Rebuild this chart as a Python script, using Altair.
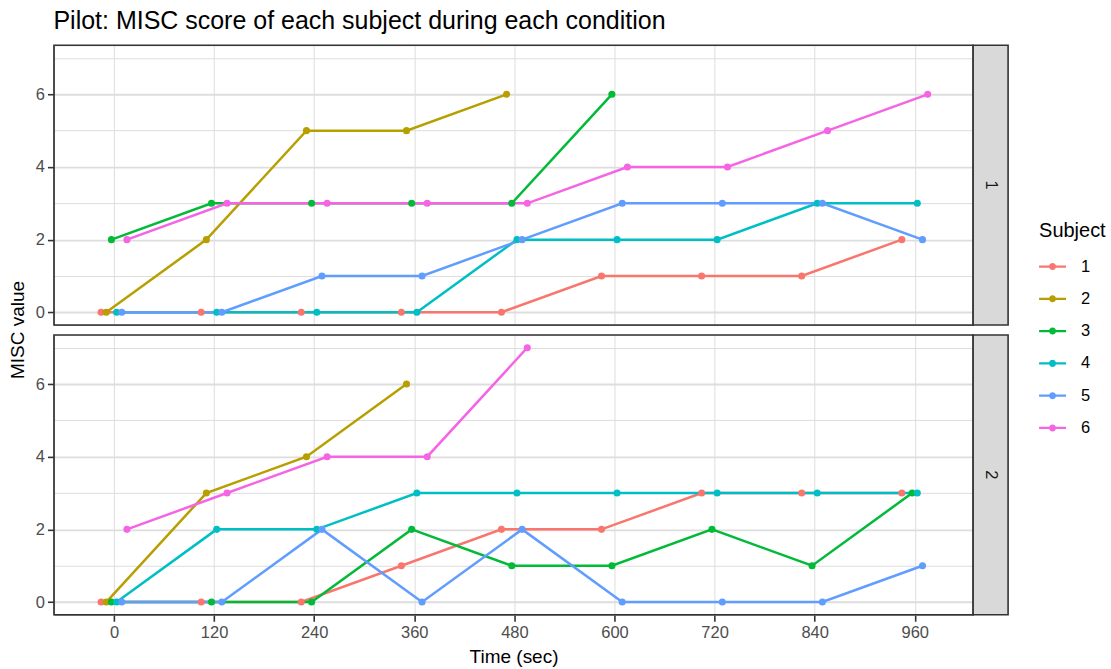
import altair as alt
import pandas as pd

FONT = "Liberation Sans"

# Rating times (seconds) and subject ids
times = [0, 120, 240, 360, 480, 600, 720, 840, 960]
subjects = ["1", "2", "3", "4", "5", "6"]
palette = ["#F8766D", "#B79F00", "#00BA38", "#00BFC4", "#619CFF", "#F564E3"]

# MISC scores for condition 1 (None = no rating recorded)
c1_s1 = [0, 0, 0, 0, 0, 1, 1, 1, 2]
c1_s2 = [0, 2, 5, 5, 6, None, None, None, None]
c1_s3 = [2, 3, 3, 3, 3, 6, None, None, None]
c1_s4 = [0, 0, 0, 0, 2, 2, 2, 3, 3]
c1_s5 = [0, 0, 1, 1, 2, 3, 3, 3, 2]
c1_s6 = [2, 3, 3, 3, 3, 4, 4, 5, 6]

# MISC scores for condition 2
c2_s1 = [0, 0, 0, 1, 2, 2, 3, 3, 3]
c2_s2 = [0, 3, 4, 6, None, None, None, None, None]
c2_s3 = [0, 0, 0, 2, 1, 1, 2, 1, 3]
c2_s4 = [0, 2, 2, 3, 3, 3, 3, 3, 3]
c2_s5 = [0, 0, 2, 0, 2, 0, 0, 0, 1]
c2_s6 = [2, 3, 4, 4, 7, None, None, None, None]

cond1 = [c1_s1, c1_s2, c1_s3, c1_s4, c1_s5, c1_s6]
cond2 = [c2_s1, c2_s2, c2_s3, c2_s4, c2_s5, c2_s6]


def to_frame(series):
    rows = []
    for sid, vals in zip(subjects, series):
        for t, v in zip(times, vals):
            if v is not None:
                rows.append({"subject": sid, "sid": int(sid), "time": t, "misc": v})
    return pd.DataFrame(rows)


color_scale = alt.Scale(domain=subjects, range=palette)

# line-with-dot key glyph for the legend
key_glyph = ("M-1,-0.08H1V0.08H-1Z "
             "M0.26,0A0.26,0.26,0,1,1,-0.26,0A0.26,0.26,0,1,1,0.26,0Z")

legend = alt.Legend(
    title="Subject", orient="none", legendX=986, legendY=176,
    symbolType=key_glyph, symbolSize=729, symbolStrokeWidth=0, symbolOpacity=1,
    titleFont=FONT, titleFontSize=20, titleFontWeight="normal", titleColor="#000000",
    labelFont=FONT, labelFontSize=16.5, labelColor="#000000",
    labelOffset=15, rowPadding=10.3, titlePadding=12,
)

PW, PH = 920, 280


def panel(series, label, bottom):
    df = to_frame(series)
    # small horizontal dodge so overlapping subjects stay visible
    base = alt.Chart(df).transform_calculate(t="datum.time + (datum.sid - 3.5) * 6.2")

    if bottom:
        xaxis = alt.Axis(values=times, title="Time (sec)", grid=True, ticks=True,
                         tickSize=6.5, tickColor="#333333", tickWidth=1.6,
                         labelFont=FONT, labelFontSize=16.5, labelColor="#4D4D4D",
                         labelPadding=3, titleFont=FONT, titleFontSize=19,
                         titleFontWeight="normal", titleColor="#000000", titlePadding=7)
    else:
        xaxis = alt.Axis(values=times, title=None, grid=True, ticks=False, labels=False)

    yaxis = alt.Axis(
        values=[0, 1, 2, 3, 4, 5, 6, 7], title=None, grid=True,
        gridWidth={"condition": {"test": "datum.value % 2 == 0", "value": 1.9}, "value": 1.0},
        tickOpacity={"condition": {"test": "datum.value % 2 == 0", "value": 1}, "value": 0},
        labelExpr="datum.value % 2 == 0 ? datum.label : ''",
        tickSize=6.5, tickColor="#333333", tickWidth=1.6,
        labelFont=FONT, labelFontSize=16.5, labelColor="#4D4D4D", labelPadding=3,
    )

    x = alt.X("t:Q", scale=alt.Scale(domain=[-72, 1030], nice=False, zero=False), axis=xaxis)
    y = alt.Y("misc:Q", scale=alt.Scale(domain=[-0.35, 7.35], nice=False, zero=False), axis=yaxis)

    lines = base.mark_line(strokeWidth=2.5).encode(
        x=x, y=y, order="time:Q",
        color=alt.Color("subject:N", scale=color_scale, legend=legend),
    )
    points = base.mark_circle(size=50, opacity=1).encode(
        x=x, y=y,
        color=alt.Color("subject:N", scale=color_scale, legend=legend),
    )

    lab = pd.DataFrame({"lab": [label]})
    border = alt.Chart(lab).mark_rect(fill="transparent", stroke="#333333", strokeWidth=1.6).encode(
        x=alt.value(0), x2=alt.value(PW), y=alt.value(0), y2=alt.value(PH)
    )
    strip = alt.Chart(lab).mark_rect(fill="#D9D9D9", stroke="#333333", strokeWidth=1.6).encode(
        x=alt.value(PW), x2=alt.value(PW + 35), y=alt.value(0), y2=alt.value(PH)
    )
    strip_text = alt.Chart(lab).mark_text(
        angle=90, font=FONT, fontSize=16.5, color="#1A1A1A", align="center", baseline="middle"
    ).encode(x=alt.value(PW + 17.5), y=alt.value(PH / 2), text="lab:N")

    layers = [lines, points, border, strip, strip_text]
    if not bottom:
        ytitle = alt.Chart(pd.DataFrame({"yt": ["MISC value"]})).mark_text(
            angle=270, font=FONT, fontSize=19, color="#000000", align="center", baseline="middle"
        ).encode(x=alt.value(-36), y=alt.value(PH + 5), text="yt:N")
        layers.append(ytitle)

    return alt.layer(*layers).properties(width=PW, height=PH)


top = panel(cond1, "1", bottom=False)
bot = panel(cond2, "2", bottom=True)

chart = alt.vconcat(top, bot, spacing=10, bounds="flush").properties(
    title=alt.Title("Pilot: MISC score of each subject during each condition",
                    anchor="start", font=FONT, fontSize=25, fontWeight="normal",
                    color="#000000", offset=10, dx=45),
    padding={"left": 8, "top": 8, "right": 5, "bottom": 5},
).configure_axis(
    gridColor="#EBEBEB", domain=False,
).configure_view(
    stroke=None,
).configure(background="white")

chart.save("out.html", embed_options={"renderer": "svg", "actions": False})
